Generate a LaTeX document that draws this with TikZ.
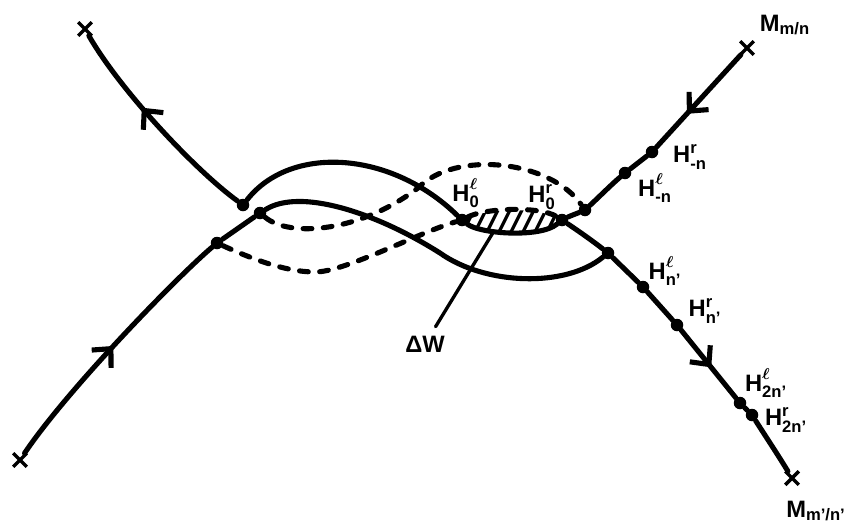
\documentclass[tikz,border=0pt]{standalone}
\usepackage{amsmath}
\usepackage{fontspec}
\setsansfont{Liberation Sans}
\usetikzlibrary{arrows.meta,decorations.markings,shapes.misc}

\newcommand{\Hlbl}[1]{H$^{\raisebox{1.5pt}{$\scriptstyle\boldsymbol{\ell}$}}_{\textbf{#1}}$}
\newcommand{\Hrbl}[1]{H$^{\textbf{r}}_{\textbf{#1}}$}

\begin{document}
\begin{tikzpicture}[x=0.02cm, y=-0.02cm,
  curve/.style={line width=2.9pt, line cap=round, line join=round},
  dcurve/.style={curve, dash pattern=on 5pt off 6.5pt},
  dot/.style={circle, fill=black, inner sep=0pt, minimum size=0.25cm},
  xmark/.style={cross out, draw=black, line width=2pt, inner sep=0pt, minimum size=0.2cm},
  lbl/.style={font=\sffamily\bfseries\fontsize{13.5}{15}\selectfont, inner sep=1pt},
  ptr/.style={line width=1.9pt, line cap=round},
  hatch/.style={line width=1.9pt},
  flow/.style={postaction={decorate, decoration={markings,
      mark=at position #1 with {\arrow{Straight Barb[length=8pt, width=15pt]}}}}}
]
  \useasboundingbox (0,0) rectangle (852,531);

  % hyperbolic points
  \node[xmark] (xTL) at (85,29) {};
  \node[xmark] (xBL) at (20,460) {};
  \node[xmark] (xTR) at (747,48) {};
  \node[xmark] (xBR) at (792,478) {};

  % intersection points
  \node[dot] (pA)   at (243,205) {};
  \node[dot] (pB)   at (217,243) {};
  \node[dot] (pC)   at (260,213) {};
  \node[dot] (h0l)  at (462,220) {};
  \node[dot] (h0r)  at (562,220) {};
  \node[dot] (pD)   at (585,210) {};
  \node[dot] (hnl)  at (625,173) {};
  \node[dot] (hnr)  at (652,152) {};
  \node[dot] (pE)   at (608,253) {};
  \node[dot] (hnpl) at (643,287) {};
  \node[dot] (hnpr) at (677,325) {};
  \node[dot] (h2l)  at (740,403) {};
  \node[dot] (h2r)  at (752,415) {};

  % turnstile lobe
  \begin{scope}
    \clip (h0l.center) .. controls (485,208) and (540,206) .. (h0r.center)
          .. controls (540,238) and (480,234) .. (h0l.center) -- cycle;
    \foreach \i in {0,...,11}
      \draw[hatch] (430+12*\i,250) -- ++(25,-50);
  \end{scope}

  % manifolds
  \draw[curve, flow=0.6] (pA) .. controls (195,170) and (120,90) .. (xTL);
  \draw[curve] (pA) .. controls (290,145) and (390,150) .. (h0l)
     .. controls (480,234) and (540,238) .. (h0r)
     .. controls (570,216) and (578,213) .. (pD)
     .. controls (600,196) and (612,184) .. (hnl) -- (hnr);
  \draw[curve, flow=0.64] (xTR) -- (hnr);

  \draw[curve, flow=0.5] (xBL) .. controls (67,390) and (177,277) .. (pB);
  \draw[curve] (pB) -- (pC) .. controls (300,188) and (375,212) .. (440,253)
     .. controls (485,285) and (565,288) .. (pE);

  \draw[curve] (h0r) .. controls (580,232) and (594,242) .. (pE) -- (hnpl) -- (hnpr);
  \draw[curve, flow=0.55] (hnpr) -- (h2l);
  \draw[curve] (h2l) -- (h2r) .. controls (768,440) and (778,455) .. (xBR);

  \draw[dcurve] (pC) .. controls (290,238) and (360,232) .. (418,188)
     .. controls (455,150) and (550,160) .. (pD);
  \draw[dcurve] (pB) .. controls (250,258) and (285,272) .. (315,272)
     .. controls (345,272) and (420,232) .. (h0l)
     .. controls (485,208) and (540,206) .. (h0r);

  % labels
  \node[lbl] (lMmn)  at (785,25)  {M$_{\textbf{m/n}}$};
  \node[lbl] (lMmnp) at (816,511) {M$_{\textbf{m'/n'}}$};
  \node[lbl] (l0l)   at (466,193) {\Hlbl{0}};
  \node[lbl] (l0r)   at (542,197) {\Hrbl{0}};
  \node[lbl] (lnr)   at (690,157) {\Hrbl{-n}};
  \node[lbl] (lnl)   at (655,188) {\Hlbl{-n}};
  \node[lbl] (lnpl)  at (665,271) {\Hlbl{n'}};
  \node[lbl] (lnpr)  at (705,311) {\Hrbl{n'}};
  \node[lbl] (l2l)   at (766,383) {\Hlbl{2n'}};
  \node[lbl] (l2r)   at (786,420) {\Hrbl{2n'}};

  \coordinate (dWtip) at (494,231);
  \node[lbl, inner sep=5pt] (dW) at (425,344) {ΔW};
  \draw[ptr] (dWtip) -- (dW);
\end{tikzpicture}
\end{document}
